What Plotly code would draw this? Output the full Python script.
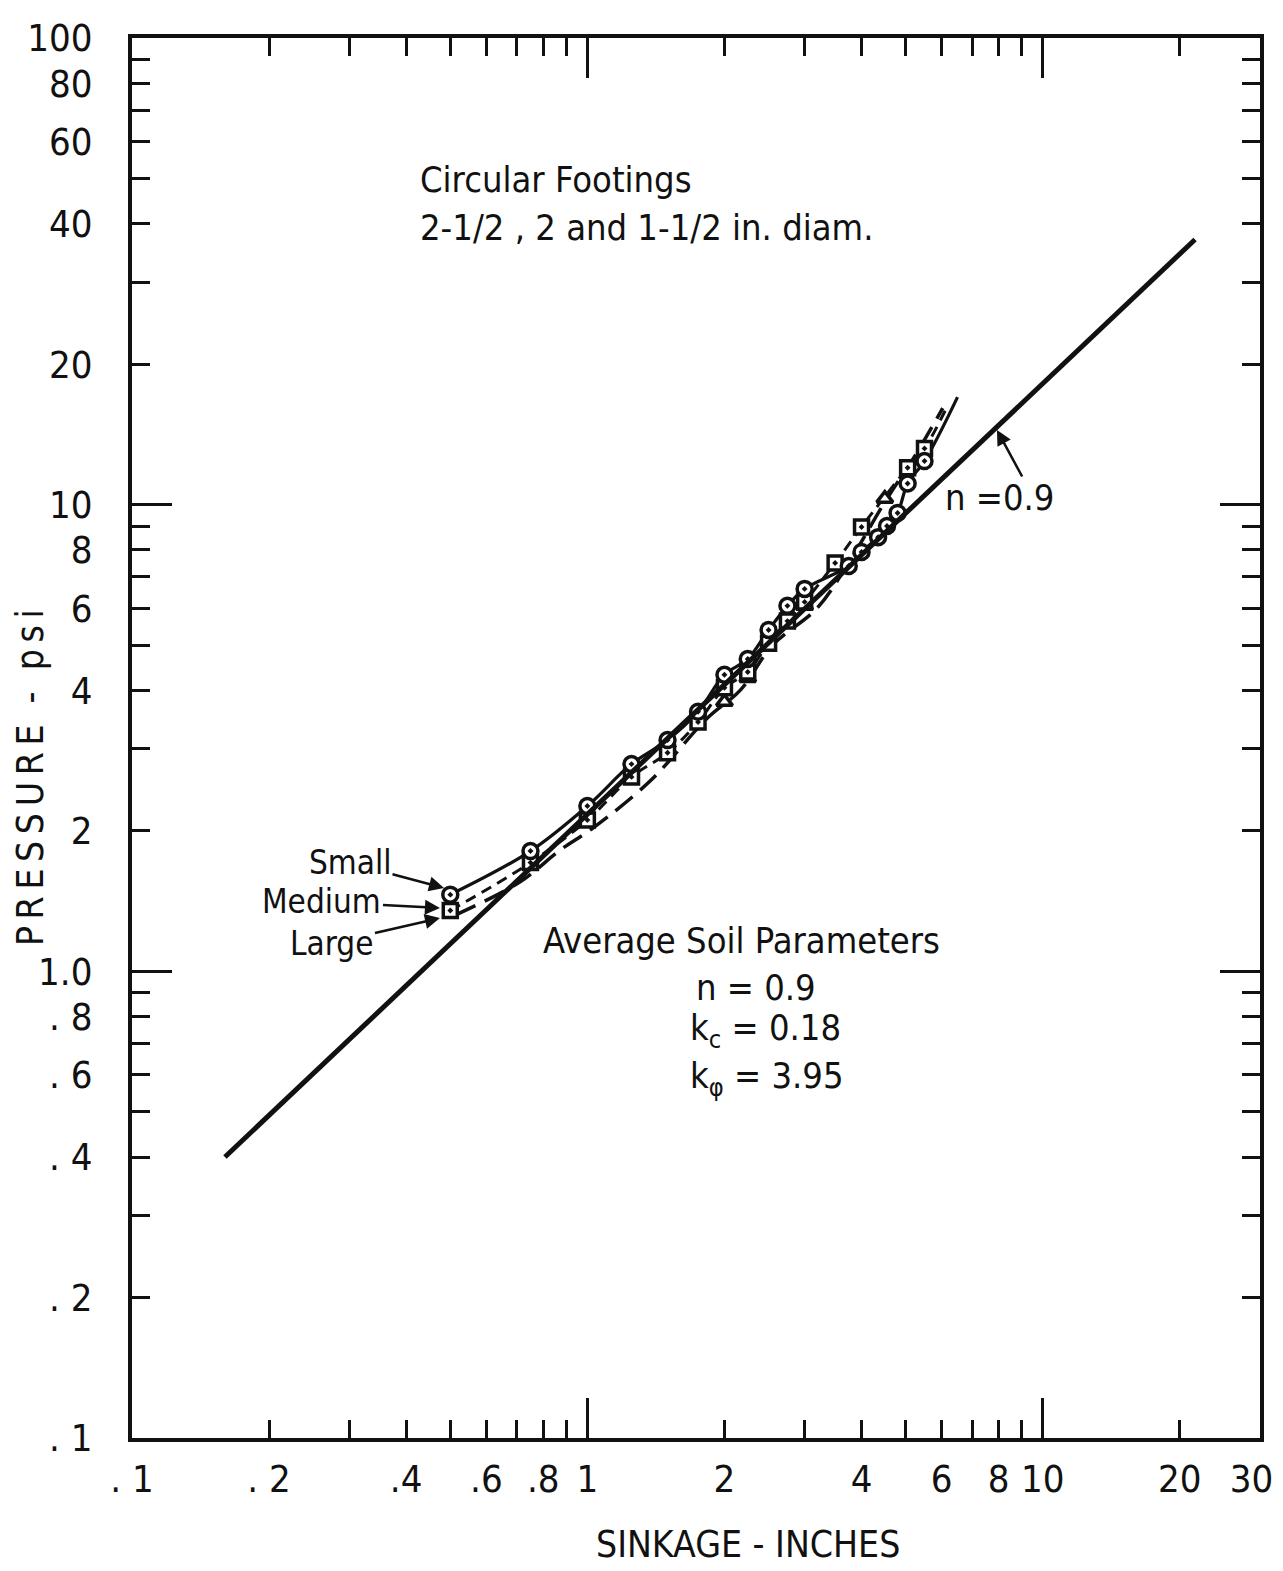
import math
import plotly.graph_objects as go

# ---------------- data ----------------
# Small footing (circles, solid line)
small_x = [0.5, 0.75, 1.0, 1.25, 1.5, 1.75, 2.0, 2.25, 2.5, 2.75, 3.0, 3.75, 4.0, 4.35, 4.55, 4.8, 5.05, 5.5]
small_y = [1.46, 1.81, 2.26, 2.78, 3.13, 3.6, 4.32, 4.67, 5.39, 6.07, 6.6, 7.39, 7.92, 8.52, 9.0, 9.6, 11.1, 12.4]
small_curve_x = [0.5, 0.75, 1.0, 1.25, 1.5, 1.75, 2.0, 2.25, 2.5, 2.75, 3.0, 3.75, 4.0, 4.35, 4.55, 4.8, 5.05, 5.5, 6.5]
small_curve_y = [1.46, 1.81, 2.26, 2.78, 3.13, 3.6, 4.32, 4.67, 5.39, 6.07, 6.6, 7.39, 7.92, 8.52, 9.0, 9.6, 11.1, 12.4, 17.0]

# Medium footing (squares, short-dashed line)
medium_x = [0.5, 0.75, 1.0, 1.25, 1.5, 1.75, 2.0, 2.25, 2.5, 2.75, 3.0, 3.5, 4.0, 5.05, 5.5]
medium_y = [1.35, 1.71, 2.11, 2.61, 2.94, 3.42, 4.05, 4.38, 5.05, 5.63, 6.19, 7.5, 8.96, 12.0, 13.2]
medium_curve_x = [0.5, 0.75, 1.0, 1.25, 1.5, 1.75, 2.0, 2.25, 2.5, 2.75, 3.0, 3.5, 4.0, 4.5, 5.05, 5.5, 6.2]
medium_curve_y = [1.35, 1.71, 2.11, 2.61, 2.94, 3.42, 4.05, 4.38, 5.05, 5.63, 6.19, 7.5, 8.96, 10.4, 12.0, 13.2, 16.4]

# Large footing (triangles, long-dashed line)
large_x = [2.0, 2.25, 3.0, 4.5]
large_y = [3.78, 4.25, 6.07, 10.3]
large_curve_x = [0.513, 0.712, 0.872, 1.03, 1.375, 1.835, 2.17, 2.55, 3.2, 3.78, 4.52, 5.26, 6.03]
large_curve_y = [1.32, 1.555, 1.82, 2.03, 2.56, 3.49, 4.01, 5.0, 6.01, 7.61, 10.2, 12.8, 16.1]

# Theoretical line n = 0.9
theory_x = [0.16, 21.6]
theory_y = [0.40, 37.0]

# Axis ticks
x_tickvals = [0.1, 0.2, 0.4, 0.6, 0.8, 1, 2, 4, 6, 8, 10, 20, 30]
x_ticktext = ['. 1', '. 2', '.4', '.6', '.8', '1', '2', '4', '6', '8', '10', '20', '30\u2002']
x_minor = [0.3, 0.5, 0.7, 0.9, 3, 5, 7, 9]
y_tickvals = [0.1, 0.2, 0.4, 0.6, 0.8, 1, 2, 4, 6, 8, 10, 20, 40, 60, 80, 100]
y_ticktext = ['. 1', '. 2', '. 4', '. 6', '. 8', '1.0', '2', '4', '6', '8', '10', '20', '40', '60', '80', '100']
y_minor = [0.3, 0.5, 0.7, 0.9, 3, 5, 7, 9, 30, 50, 70, 90]
decade_ticks = [1, 10]

X_RANGE = [math.log10(0.1), math.log10(30)]
Y_RANGE = [math.log10(0.1), math.log10(100)]

FONT = "Liberation Sans Narrow, DejaVu Sans Condensed, Arial Narrow, sans-serif"
BLACK = "#111111"

fig = go.Figure()

# curves
fig.add_trace(go.Scatter(x=large_curve_x, y=large_curve_y, mode="lines", line_shape="spline",
                         line=dict(color=BLACK, width=3.5, dash="22px,10px"), showlegend=False))
fig.add_trace(go.Scatter(x=medium_curve_x, y=medium_curve_y, mode="lines", line_shape="spline",
                         line=dict(color=BLACK, width=3, dash="11px,7px"), showlegend=False))
fig.add_trace(go.Scatter(x=small_curve_x, y=small_curve_y, mode="lines", line_shape="spline",
                         line=dict(color=BLACK, width=3.2), showlegend=False))
# theory line (on overlay axes carrying the long decade ticks)
fig.add_trace(go.Scatter(x=theory_x, y=theory_y, mode="lines", xaxis="x2", yaxis="y2",
                         line=dict(color=BLACK, width=5), showlegend=False))
# markers
fig.add_trace(go.Scatter(x=large_x, y=large_y, mode="markers", showlegend=False,
                         marker=dict(symbol="triangle-up", size=14, color="white",
                                     line=dict(color=BLACK, width=3.5))))
fig.add_trace(go.Scatter(x=medium_x, y=medium_y, mode="markers", showlegend=False,
                         marker=dict(symbol="square-dot", size=14, color="white",
                                     line=dict(color=BLACK, width=3.5))))
fig.add_trace(go.Scatter(x=small_x, y=small_y, mode="markers", showlegend=False,
                         marker=dict(symbol="circle-dot", size=15, color="white",
                                     line=dict(color=BLACK, width=3.5))))

axis_common = dict(showgrid=False, zeroline=False, showline=True, linecolor=BLACK, linewidth=4,
                   mirror="ticks", ticks="inside", tickcolor=BLACK, tickwidth=2.8, automargin=False)

# the page body adds an 8px margin, so the figure is 8px smaller and margins shifted
fig.update_layout(
    template="none",
    width=1275, height=1563,
    margin=dict(l=124, r=23, t=30, b=133, autoexpand=False),
    paper_bgcolor="white", plot_bgcolor="white",
    font=dict(family=FONT, color=BLACK, size=36),
    xaxis=dict(type="log", range=X_RANGE, tickvals=x_tickvals, ticktext=x_ticktext,
               ticklen=18, ticklabelstandoff=4, ticklabeloverflow="allow",
               tickfont=dict(family=FONT, size=38, color=BLACK),
               minor=dict(tickvals=x_minor, ticks="inside", ticklen=18, tickwidth=2.8, tickcolor=BLACK),
               **axis_common),
    yaxis=dict(type="log", range=Y_RANGE, tickvals=y_tickvals, ticktext=y_ticktext,
               ticklen=18, ticklabelstandoff=28, ticklabeloverflow="allow",
               tickfont=dict(family=FONT, size=38, color=BLACK),
               minor=dict(tickvals=y_minor, ticks="inside", ticklen=18, tickwidth=2.8, tickcolor=BLACK),
               **axis_common),
    xaxis2=dict(type="log", range=X_RANGE, overlaying="x", anchor="y2", side="bottom",
                tickvals=decade_ticks, ticklen=40, showticklabels=False, **axis_common),
    yaxis2=dict(type="log", range=Y_RANGE, overlaying="y", anchor="x2", side="left",
                tickvals=decade_ticks, ticklen=40, showticklabels=False, **axis_common),
)

ann = []
def txt(text, x, y, xanchor="center", size=36, angle=0):
    ann.append(dict(text=text, x=x, y=y, xref="paper", yref="paper", showarrow=False,
                    xanchor=xanchor, yanchor="middle", textangle=angle,
                    font=dict(family=FONT, size=size, color=BLACK)))

def label_arrow(text, x, y, ax, ay):
    ann.append(dict(text=text, x=x, y=y, xref="paper", yref="paper", ax=ax, ay=ay,
                    showarrow=True, arrowhead=2, arrowsize=1.2, arrowwidth=2.5, arrowcolor=BLACK,
                    standoff=0, font=dict(family=FONT, size=33, color=BLACK)))

txt("Circular Footings", 0.2535, 0.8986, xanchor="left")
txt("2-1/2 , 2 and 1-1/2 in. diam.", 0.2535, 0.8643, xanchor="left")
txt("Average Soil Parameters", 0.54, 0.3557)
txt("n = 0.9", 0.5532, 0.3221)
txt("k<sub>c</sub> = 0.18", 0.4929, 0.2914, xanchor="left")
txt("k<sub>φ</sub> = 3.95", 0.4929, 0.2571, xanchor="left")
label_arrow("Small", 0.2766, 0.3929, -94, -25)
label_arrow("Medium", 0.2730, 0.3786, -118, -6)
label_arrow("Large", 0.2730, 0.3714, -108, 25)
txt("n =0.9", 0.7695, 0.6721)
ann.append(dict(text="", x=0.7668, y=0.72, xref="paper", yref="paper", ax=26, ay=48,
                showarrow=True, arrowhead=2, arrowsize=1.2, arrowwidth=2.5, arrowcolor=BLACK))
txt("P\u2009R\u2009E\u2009S\u2009S\u2009U\u2009R\u2009E  -  p\u2009s\u2009i", -0.0905, 0.472, size=37, angle=-90)
txt("SINKAGE - INCHES", 0.546, -0.0764, size=37)

fig.update_layout(annotations=ann)
fig.write_html("out.html")
